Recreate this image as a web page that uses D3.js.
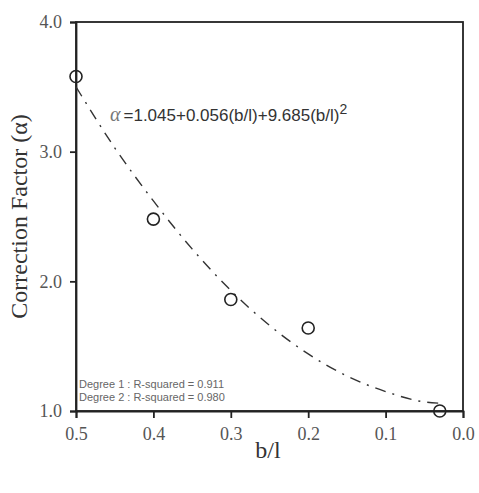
<!DOCTYPE html>
<html>
<head>
<meta charset="utf-8">
<script src="https://cdn.jsdelivr.net/npm/d3@7"></script>
<style>
  body { margin: 0; background: #fff; }
  svg { display: block; }
</style>
</head>
<body>
<div id="chart"></div>
<script>
// measured points
var ratioValues = [0.5, 0.4, 0.3, 0.2, 0.03];
var factorValues = [3.58, 2.48, 1.86, 1.64, 1.0];

// fitted curve
var fitRatio = [0.5, 0.45, 0.4, 0.35, 0.3, 0.25, 0.2, 0.15, 0.1, 0.05, 0.03];
var fitFactor = [3.50, 3.03, 2.62, 2.25, 1.93, 1.66, 1.44, 1.27, 1.15, 1.07, 1.06];

var xTicks = [0.5, 0.4, 0.3, 0.2, 0.1, 0.0];
var yTicks = [1.0, 2.0, 3.0, 4.0];
var fitLegend = ["Degree 1 : R-squared = 0.911", "Degree 2 : R-squared = 0.980"];

var width = 479, height = 493;
var margin = {top: 22, right: 16, bottom: 82, left: 76};
var innerWidth = width - margin.left - margin.right;
var innerHeight = height - margin.top - margin.bottom;
var serif = "'Liberation Serif', 'Times New Roman', serif";
var sans = "'Liberation Sans', Arial, sans-serif";

var svg = d3.select("#chart").append("svg")
    .attr("width", width)
    .attr("height", height);
var g = svg.append("g")
    .attr("transform", "translate(" + margin.left + "," + margin.top + ")");

var x = d3.scaleLinear().domain([0.5, 0.0]).range([0, innerWidth]);
var y = d3.scaleLinear().domain([1.0, 4.0]).range([innerHeight, 0]);

// frame
g.append("rect")
    .attr("width", innerWidth)
    .attr("height", innerHeight)
    .attr("fill", "none")
    .attr("stroke", "#222")
    .attr("stroke-width", 1.8);

var xAxis = g.append("g")
    .attr("transform", "translate(0," + innerHeight + ")")
    .call(d3.axisBottom(x).tickValues(xTicks).tickFormat(d3.format(".1f")).tickSize(7).tickPadding(9));
var yAxis = g.append("g")
    .call(d3.axisLeft(y).tickValues(yTicks).tickFormat(d3.format(".1f")).tickSize(6).tickPadding(8));

[xAxis, yAxis].forEach(function(ax) {
    ax.attr("font-family", serif).attr("font-size", 18);
    ax.select(".domain").attr("stroke", "#222").attr("stroke-width", 1.8);
    ax.selectAll(".tick line").attr("stroke", "#222").attr("stroke-width", 1.8);
    ax.selectAll(".tick text").attr("fill", "#555");
});

// axis titles
svg.append("text")
    .attr("transform", "translate(27," + (margin.top + innerHeight / 2) + ") rotate(-90)")
    .attr("text-anchor", "middle")
    .attr("fill", "#333")
    .attr("font-family", serif)
    .attr("font-size", 24)
    .text("Correction Factor (α)");

svg.append("text")
    .attr("x", 268)
    .attr("y", 458)
    .attr("text-anchor", "middle")
    .attr("fill", "#333")
    .attr("font-family", serif)
    .attr("font-size", 24)
    .text("b/l");

// fitted curve
var fitData = fitRatio.map(function(r, i) { return {r: r, v: fitFactor[i]}; });
var line = d3.line()
    .x(function(d) { return x(d.r); })
    .y(function(d) { return y(d.v); })
    .curve(d3.curveMonotoneX);
g.append("path")
    .datum(fitData)
    .attr("d", line)
    .attr("fill", "none")
    .attr("stroke", "#333")
    .attr("stroke-width", 1.4)
    .attr("stroke-dasharray", "11,7,2,7");

// data points
var pts = ratioValues.map(function(r, i) { return {r: r, v: factorValues[i]}; });
g.selectAll("circle.pt")
    .data(pts)
    .enter()
    .append("circle")
    .attr("class", "pt")
    .attr("cx", function(d) { return x(d.r); })
    .attr("cy", function(d) { return y(d.v); })
    .attr("r", 6)
    .attr("fill", "none")
    .attr("stroke", "#222")
    .attr("stroke-width", 1.6);

// equation
var eq = svg.append("text")
    .attr("x", 110)
    .attr("y", 121)
    .attr("fill", "#333")
    .attr("font-family", sans)
    .attr("font-size", 17);
eq.append("tspan")
    .attr("font-family", serif)
    .attr("font-style", "italic")
    .attr("font-size", 20)
    .attr("fill", "#777")
    .text("α");
eq.append("tspan").attr("dx", 3).text("=1.045+0.056(b/l)+9.685(b/l)");
eq.append("tspan").attr("dy", -7).attr("font-size", 14).text("2");

// fit legend
svg.selectAll("text.fit")
    .data(fitLegend)
    .enter()
    .append("text")
    .attr("class", "fit")
    .attr("x", 79)
    .attr("y", function(d, i) { return 388 + i * 13; })
    .attr("fill", "#666")
    .attr("font-family", sans)
    .attr("font-size", 11)
    .text(function(d) { return d; });
</script>
</body>
</html>
